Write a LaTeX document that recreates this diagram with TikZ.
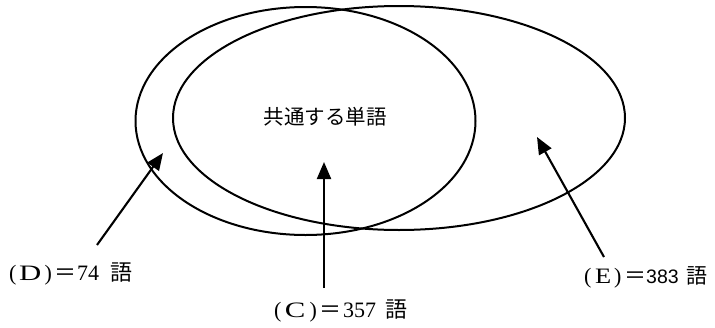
\documentclass[tikz,border=0pt]{standalone}
\usepackage{fontspec}
\setmainfont{Liberation Serif}
\newfontfamily\cjk{Noto Sans CJK JP}
\newfontfamily\sansdigits{Liberation Sans}
\usetikzlibrary{arrows.meta}
\newcommand\jc[1]{{\cjk #1}}
\newcommand\wide[2]{\makebox[#1][c]{#2}}
\begin{document}
\begin{tikzpicture}[x=1pt,y=-1pt,
  ring/.style={line width=2pt},
  pointer/.style={line width=2.1pt,-{Triangle[length=17pt,width=14pt]}},
  lbl/.style={inner sep=0pt,anchor=base west,font=\fontsize{22}{26}\selectfont},
  ctext/.style={inner sep=0pt,font=\cjk\fontsize{20.5}{24}\selectfont}]
\useasboundingbox (0,0) rectangle (715,327);
% ellipses
\draw[ring] (305.5,121) ellipse [x radius=170pt, y radius=114pt];
\draw[ring] (399,118) ellipse [x radius=226pt, y radius=112pt];
% center text
\node[ctext] (ct) at (325,117) {共通する単語};
% labels
\node[lbl] (dl) at (7,280) {\wide{11pt}{(}\wide{24pt}{\scalebox{1.4}[1]{D}}\wide{12pt}{)}\wide{22pt}{\jc{＝}}\hspace{1pt}74\hspace{11pt}\jc{語}};
\node[lbl] (cl) at (272,317) {\wide{11pt}{(}\wide{24pt}{\scalebox{1.4}[1]{C}}\wide{12pt}{)}\wide{22pt}{\jc{＝}}\hspace{2pt}357\hspace{9pt}\jc{語}};
\node[lbl] (el) at (582,283) {\wide{11pt}{(}\wide{20pt}{\scalebox{1.2}[1]{E}}\wide{9pt}{)}\hspace{2pt}\wide{22pt}{\jc{＝}}{\sansdigits\fontsize{19.5}{24}\selectfont 383}\hspace{8pt}{\cjk\fontsize{21}{24}\selectfont 語}};
% arrow coordinates
\coordinate (d0) at (97,245);
\coordinate (d1) at (163,153);
\coordinate (c0) at (324,288);
\coordinate (c1) at (324,162);
\coordinate (e0) at (604,257);
\coordinate (e1) at (537,137);
\draw[pointer] (d0) -- (d1);
\draw[pointer] (c0) -- (c1);
\draw[pointer] (e0) -- (e1);
\end{tikzpicture}
\end{document}
